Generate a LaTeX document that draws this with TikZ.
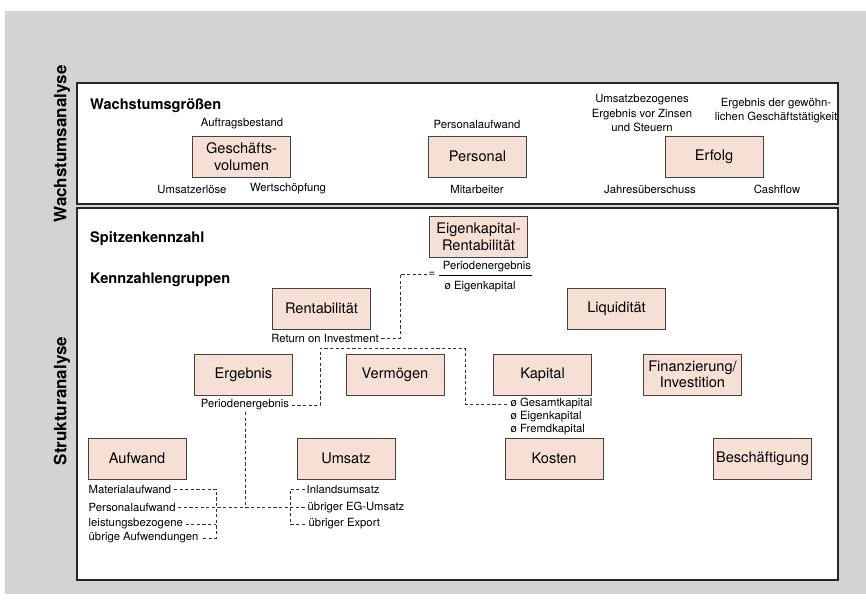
\documentclass[tikz,border=0pt]{standalone}
\usepackage{fontspec}
\setmainfont{TeX Gyre Heros}
\definecolor{pagegray}{HTML}{D1D3D4}
\definecolor{boxfill}{HTML}{F6E0D6}
\definecolor{boxline}{HTML}{4A3F3C}
\definecolor{dashgray}{HTML}{333333}
\tikzset{
  kbox/.style={draw=boxline, line width=0.9pt, fill=boxfill, minimum width=98pt,
    minimum height=41pt, inner sep=0pt, align=center,
    font=\fontsize{14.6}{16.5}\selectfont},
  lbl/.style={inner sep=1.5pt, align=center, font=\fontsize{11.3}{14.2}\selectfont},
  head/.style={inner sep=0pt, anchor=west, font=\fontsize{14.6}{16}\selectfont\bfseries},
  side/.style={inner sep=0pt, rotate=90, font=\fontsize{17}{19}\selectfont\bfseries},
  panel/.style={draw=black!85, line width=1.1pt, fill=white},
  dl/.style={draw=dashgray, line width=0.85pt, dash pattern=on 3.2pt off 2.4pt}
}
\begin{document}
\begin{tikzpicture}[x=1pt, y=-1pt]
\useasboundingbox (0,0) rectangle (866,600);
% background and the two panels
\fill[pagegray] (5,11) rectangle (866,594);
\draw[panel] (77,83) rectangle (838,204);
\draw[panel] (77,208) rectangle (838,580);
\node[side] (wa) at (62,144) {Wachstumsanalyse};
\node[side] (sa) at (62,401) {Strukturanalyse};

% ---- growth figures ----
\node[head] (wg) at (90,106) {Wachstumsgrößen};
\node[kbox] (gv) at (241.5,156.5) {Geschäfts-\\volumen};
\node[kbox] (pers) at (477.5,156.5) {Personal};
\node[kbox] (erf) at (714,156.5) {Erfolg};
\node[lbl] (ab) at (242,124) {Auftragsbestand};
\node[lbl] (ue) at (192,189) {Umsatzerlöse};
\node[lbl] (ws) at (288,189) {Wertschöpfung};
\node[lbl] (pa1) at (477,124) {Personalaufwand};
\node[lbl] (mi) at (477,189) {Mitarbeiter};
\node[lbl] (ebit) at (642,113) {Umsatzbezogenes\\Ergebnis vor Zinsen\\und Steuern};
\node[lbl] (egt) at (776,111) {Ergebnis der gewöhn-\\lichen Geschäftstätigkeit};
\node[lbl] (js) at (650,189) {Jahresüberschuss};
\node[lbl] (cf) at (777,189) {Cashflow};

% ---- structure figures ----
\node[head] (sk) at (90,239) {Spitzenkennzahl};
\node[head] (kg) at (90,280) {Kennzahlengruppen};
\node[kbox] (ekr) at (478.5,237) {Eigenkapital-\\Rentabilität};
\node[kbox] (rent) at (321.5,308.5) {Rentabilität};
\node[kbox] (liq) at (616.5,308.5) {Liquidität};
\node[kbox] (erg) at (243.5,374.5) {Ergebnis};
\node[kbox] (verm) at (395,374.5) {Vermögen};
\node[kbox] (kap) at (542.5,374.5) {Kapital};
\node[kbox] (fin) at (692.5,374.5) {Finanzierung/\\Investition};
\node[kbox] (aufw) at (137,458.5) {Aufwand};
\node[kbox] (ums) at (346,458.5) {Umsatz};
\node[kbox] (kost) at (554,458.5) {Kosten};
\node[kbox] (besch) at (762.5,458.5) {Beschäftigung};

% return on equity as a fraction
\node[lbl] (eq) at (432,274) {=};
\node[lbl] (zaehler) at (487,266.5) {Periodenergebnis};
\node[lbl, anchor=west] (nenner) at (443,286.5) {ø Eigenkapital};
\draw[line width=0.7pt] (439,275) -- (532,275);

\node[lbl] (roi) at (325,338) {Return on Investment};
\node[lbl] (pe) at (245,405) {Periodenergebnis};
\node[lbl, anchor=west] (gk) at (509,404) {ø Gesamtkapital};
\node[lbl, anchor=west] (ek) at (509,417) {ø Eigenkapital};
\node[lbl, anchor=west] (fk) at (509,430) {ø Fremdkapital};

\node[lbl, anchor=west] (ma) at (87,489) {Materialaufwand};
\node[lbl, anchor=west] (pa) at (87,507) {Personalaufwand};
\node[lbl, anchor=west] (lb) at (87,524) {leistungsbezogene};
\node[lbl, anchor=west] (ua) at (87,538) {übrige Aufwendungen};
\node[lbl, anchor=west] (il) at (305,489) {Inlandsumsatz};
\node[lbl, anchor=west] (eg) at (306,507) {übriger EG-Umsatz};
\node[lbl, anchor=west] (ex) at (307,524) {übriger Export};

% corner points of the dashed links
\coordinate (c1) at (400,274);
\coordinate (k1) at (320,348);
\coordinate (k2) at (465,348);
\coordinate (b4) at (216,538);
\coordinate (u4) at (290,524);

% dashed links
\draw[dl] ([xshift=1pt]roi.east) -| (c1) -- (eq.west);
\draw[dl] ([xshift=1pt]pe.east) -| (k1) -- (k2) |- (gk.west);
\draw[dl] (pe.south) -- (pe.south |- pa.east);
\draw[dl] ([xshift=1pt]pa.east) -- (eg.west);
\draw[dl] ([xshift=1pt]ma.east) -| (b4) -- ([xshift=1pt]ua.east);
\draw[dl] ([xshift=1pt]lb.east) -- (lb.east -| b4);
\draw[dl] (il.west) -| (u4) -- (ex.west);
\end{tikzpicture}
\end{document}
